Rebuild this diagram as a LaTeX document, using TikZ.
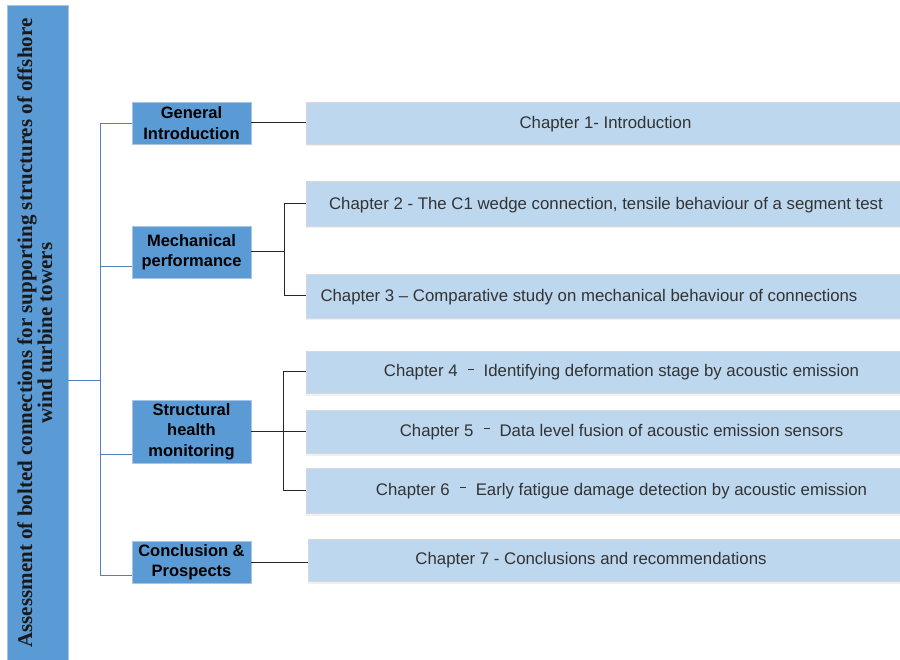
\documentclass[tikz,border=0pt]{standalone}
\usepackage{fontspec}
\setmainfont{Liberation Sans}
\newfontfamily\titlefont{Liberation Serif}
\usetikzlibrary{shadows}
\definecolor{barblue}{HTML}{5B9BD5}
\definecolor{barrim}{HTML}{A9C5E4}
\definecolor{chapblue}{HTML}{BDD7EE}
\definecolor{chaprim}{HTML}{D5D9DE}
\definecolor{trunkblue}{HTML}{4F81BD}
\definecolor{chapink}{HTML}{333333}
\newcommand\chapdash{\hspace{10pt}\rule[7pt]{6.5pt}{1.1pt}\hspace{9.5pt}}
\begin{document}
\begin{tikzpicture}[x=1pt,y=-1pt,line width=1pt,
  catbox/.style={draw=barrim,fill=barblue,line width=0.8pt,minimum width=119pt,align=center,inner sep=0pt,font=\bfseries\fontsize{16.5}{20.5}\selectfont},
  chapbox/.style={draw=chaprim,fill=chapblue,line width=0.8pt,minimum width=596pt,inner sep=0pt,drop shadow={shadow xshift=0pt,shadow yshift=-2.5pt,opacity=0.12}},
  chaptext/.style={text=chapink,inner sep=0pt,font=\fontsize{16.8}{20}\selectfont},
  titletext/.style={rotate=90,anchor=base,text=black!90,inner sep=0pt,font=\titlefont\bfseries\fontsize{21}{21}\selectfont},
  tree/.style={draw=trunkblue,line width=1pt},
  link/.style={draw=black!85,line width=1pt}]
\useasboundingbox (0,0) rectangle (900,660);
\node[draw=barrim,fill=barblue,line width=0.8pt,minimum width=61pt,minimum height=660pt,inner sep=0pt] (bar) at (37.5,335) {};
\node[titletext] (title1) at (32,333) {Assessment of bolted connections for supporting structures of offshore};
\node[titletext] (title2) at (52,333) {wind turbine towers};
\node[catbox,minimum height=42pt] (gen) at (191.5,123) {General\\Introduction};
\node[catbox,minimum height=52pt] (mech) at (191.5,252) {Mechanical\\performance};
\node[catbox,minimum height=63pt] (shm) at (191.5,431.5) {Structural\\health\\monitoring};
\node[catbox,minimum height=42pt] (concl) at (191.5,562) {Conclusion \&\\Prospects};
\node[chapbox,minimum height=42pt] (ch1) at (604,123) {};
\node[chapbox,minimum height=45pt] (ch2) at (604,203.5) {};
\node[chapbox,minimum height=44pt] (ch3) at (604,296) {};
\node[chapbox,minimum height=42pt] (ch4) at (604,372) {};
\node[chapbox,minimum height=43pt] (ch5) at (604,431.5) {};
\node[chapbox,minimum height=45pt] (ch6) at (604,490.5) {};
\node[chapbox,minimum height=42pt,minimum width=594pt] (ch7) at (605,560) {};
\node[chaptext] (t1) at (605.5,124.5) {Chapter 1- Introduction};
\node[chaptext] (t2) at (606,205) {Chapter 2 - The C1 wedge connection, tensile behaviour of a segment test};
\node[chaptext] (t3) at (589,297.5) {Chapter 3 -- Comparative study on mechanical behaviour of connections};
\node[chaptext] (t4) at (621.5,372.5) {Chapter 4\chapdash Identifying deformation stage by acoustic emission};
\node[chaptext] (t5) at (621.5,432) {Chapter 5\chapdash Data level fusion of acoustic emission sensors};
\node[chaptext] (t6) at (621.5,491) {Chapter 6\chapdash Early fatigue damage detection by acoustic emission};
\node[chaptext] (t7) at (591,560.5) {Chapter 7 - Conclusions and recommendations};
\coordinate (j) at (100,381);
\coordinate (genin) at ([yshift=-1pt]gen.west);
\coordinate (mechin) at ([yshift=-15pt]mech.west);
\coordinate (shmin) at ([yshift=-22.5pt]shm.west);
\coordinate (conclin) at ([yshift=-13pt]concl.west);
\coordinate (mj) at ([xshift=33pt]mech.east);
\coordinate (sj) at ([xshift=32pt]shm.east);
\draw[tree] (bar.east |- j) -- (j);
\draw[tree] (genin) -| (j |- conclin) -- (conclin);
\draw[tree] (j |- mechin) -- (mechin);
\draw[tree] (j |- shmin) -- (shmin);
\draw[link] (gen.east) -- (ch1.west);
\draw[link] (mech.east) -- (mj);
\draw[link] (ch2.west) -| (mj |- ch3.west) -- (ch3.west);
\draw[link] (shm.east) -- (ch5.west);
\draw[link] (ch4.west) -| (sj |- ch6.west) -- (ch6.west);
\draw[link] (concl.east) -- (concl.east -| ch7.west);
\end{tikzpicture}
\end{document}
